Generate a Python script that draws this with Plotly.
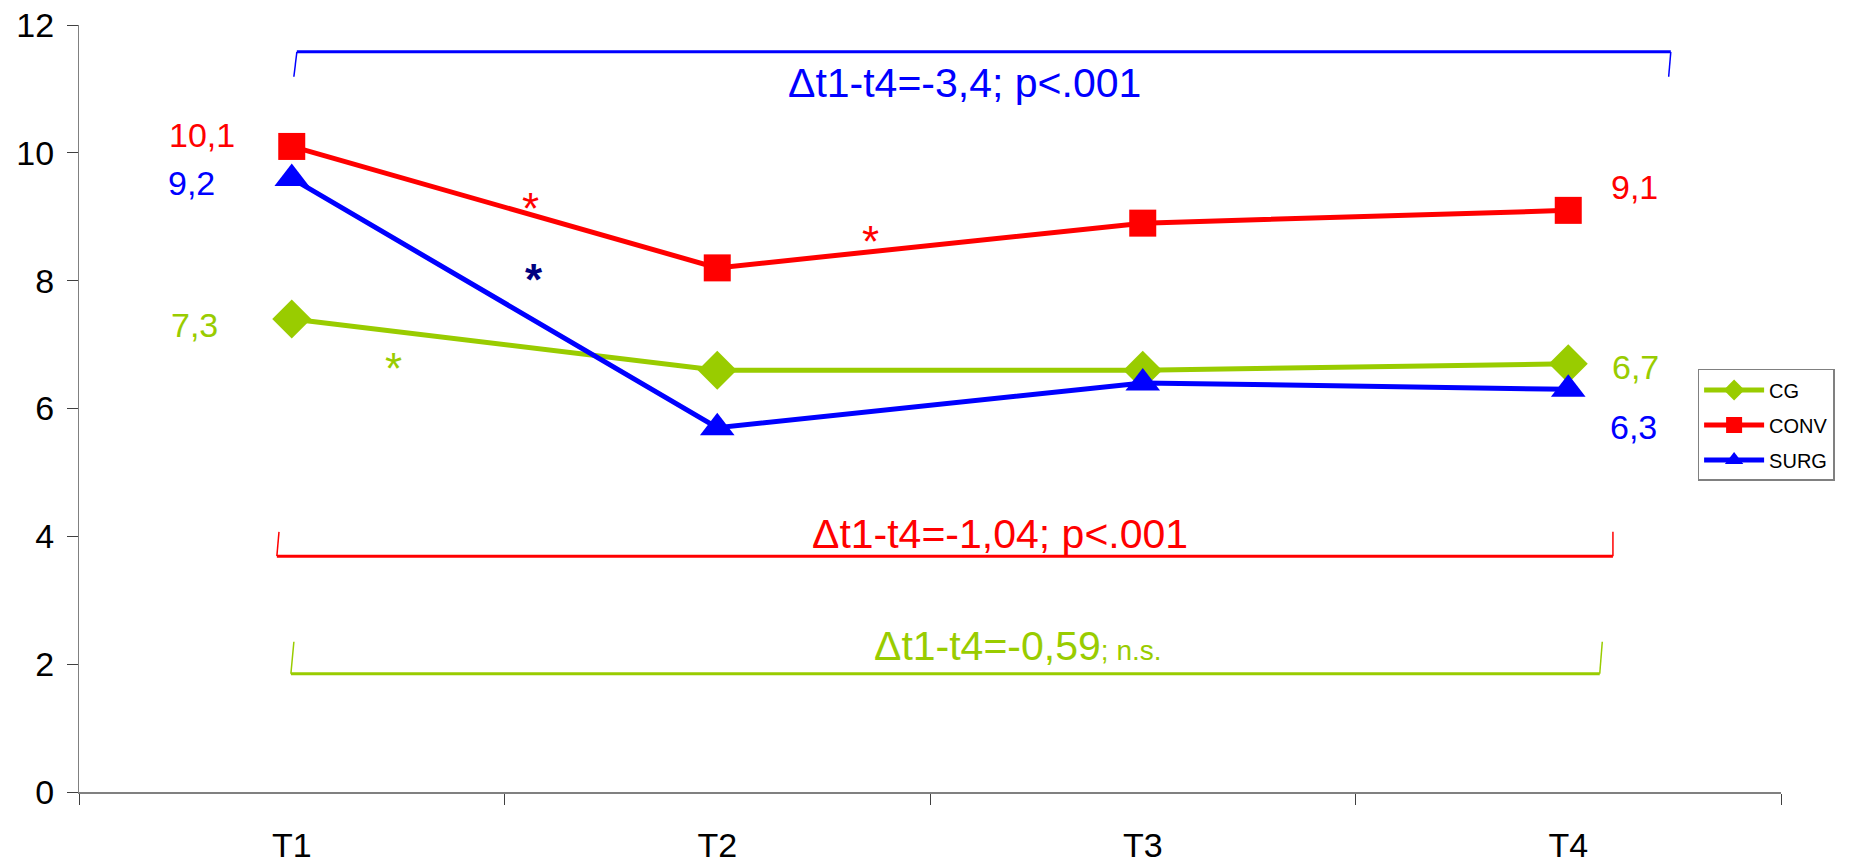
import plotly.graph_objects as go

# ---------------- data ----------------
categories = ["T1", "T2", "T3", "T4"]
cg = [7.4, 6.6, 6.6, 6.7]
conv = [10.1, 8.2, 8.9, 9.1]
surg = [9.6, 5.7, 6.4, 6.3]
series_names = ["CG", "CONV", "SURG"]

# value labels shown beside first / last points
label_texts = ["10,1", "9,2", "7,3", "9,1", "6,7", "6,3"]
label_x = [-0.212, -0.235, -0.228, 3.156, 3.159, 3.154]
label_y = [10.28, 9.53, 7.31, 9.47, 6.65, 5.71]
label_colors = ["#FF0000", "#0000FF", "#99CC00", "#FF0000", "#99CC00", "#0000FF"]

# significance asterisks
star_x = [0.56, 1.36, 0.57, 0.24]
star_y = [9.55, 9.03, 8.43, 7.04]
star_colors = ["#FF0000", "#FF0000", "#000080", "#99CC00"]

# delta brackets
brackets = [
    dict(xl=(0.005, 0.012), xr=(3.236, 3.241), yline=11.58, ytip=11.19, color="#0000FF"),
    dict(xl=(-0.03, -0.035), xr=(3.105, 3.105), yline=3.69, ytip=4.07, color="#FF0000"),
    dict(xl=(0.005, -0.002), xr=(3.08, 3.074), yline=1.85, ytip=2.35, color="#99CC00"),
]
bracket_texts = ["Δt1-t4=-3,4; p<.001", "Δt1-t4=-1,04; p<.001",
                 "Δt1-t4=-0,59<span style='font-size:28px'>; n.s.</span>"]
bracket_text_x = [1.582, 1.664, 1.706]
bracket_text_y = [11.1, 4.04, 2.29]

FONT = "Arial, Liberation Sans, sans-serif"
xidx = list(range(len(categories)))

fig = go.Figure()
fig.add_trace(go.Scatter(x=xidx, y=cg, name=series_names[0], mode="lines+markers",
                         legendgroup="g1",
                         line=dict(color="#99CC00", width=5),
                         marker=dict(symbol="diamond", size=30, color="#99CC00")))
fig.add_trace(go.Scatter(x=xidx, y=conv, name=series_names[1], mode="lines+markers",
                         legendgroup="g2",
                         line=dict(color="#FF0000", width=5),
                         marker=dict(symbol="square", size=27, color="#FF0000")))
fig.add_trace(go.Scatter(x=xidx, y=surg, name=series_names[2], mode="lines+markers",
                         legendgroup="g3",
                         line=dict(color="#0000FF", width=5),
                         marker=dict(symbol="triangle-up", size=30, color="#0000FF")))

for b in brackets:
    fig.add_shape(type="line", xref="x", yref="y", x0=b["xl"][1], x1=b["xr"][1],
                  y0=b["yline"], y1=b["yline"], line=dict(color=b["color"], width=3))
    fig.add_shape(type="line", xref="x", yref="y", x0=b["xl"][1], x1=b["xl"][0],
                  y0=b["yline"], y1=b["ytip"], line=dict(color=b["color"], width=1.5))
    fig.add_shape(type="line", xref="x", yref="y", x0=b["xr"][1], x1=b["xr"][0],
                  y0=b["yline"], y1=b["ytip"], line=dict(color=b["color"], width=1.5))

for t, x, y, b in zip(bracket_texts, bracket_text_x, bracket_text_y, brackets):
    fig.add_annotation(x=x, y=y, xref="x", yref="y", text=t, showarrow=False,
                       font=dict(family=FONT, size=41, color=b["color"]),
                       xanchor="center", yanchor="middle")

for t, x, y, c in zip(label_texts, label_x, label_y, label_colors):
    fig.add_annotation(x=x, y=y, xref="x", yref="y", text=t, showarrow=False,
                       font=dict(family=FONT, size=34, color=c),
                       xanchor="center", yanchor="middle")

for x, y, c in zip(star_x, star_y, star_colors):
    txt = "<b>*</b>" if c == "#000080" else "*"
    fig.add_annotation(x=x, y=y, xref="x", yref="y", text=txt, showarrow=False,
                       font=dict(family=FONT, size=44, color=c),
                       xanchor="center", yanchor="top")

fig.update_layout(
    width=1849, height=861,
    margin=dict(l=79, r=68, t=25, b=69, autoexpand=False),
    paper_bgcolor="white", plot_bgcolor="white",
    font=dict(family=FONT, color="black"),
    showlegend=True,
    legend=dict(x=0.951, y=0.5515, xanchor="left", yanchor="top",
                bgcolor="white", bordercolor="#808080", borderwidth=1.5,
                font=dict(family=FONT, size=20, color="black"),
                tracegroupgap=6, itemwidth=60),
)
fig.update_xaxes(
    range=[-0.5, 3.5], tickmode="array", tickvals=xidx, ticktext=categories,
    ticks="", showgrid=False, zeroline=False, automargin=False,
    showline=True, linecolor="#808080", linewidth=2,
    tickfont=dict(family=FONT, size=34, color="black"), ticklabelstandoff=22,
    ticklabeloverflow="allow",
    minor=dict(tickmode="array", tickvals=[-0.5, 0.5, 1.5, 2.5, 3.5],
               ticks="outside", ticklen=11, tickcolor="#404040", tickwidth=1, showgrid=False),
)
fig.update_yaxes(
    range=[0, 12], tickmode="array", tickvals=[0, 2, 4, 6, 8, 10, 12],
    ticks="outside", ticklen=11, tickcolor="#404040", tickwidth=1,
    showgrid=False, zeroline=False, automargin=False,
    showline=True, linecolor="#808080", linewidth=1,
    tickfont=dict(family=FONT, size=34, color="black"), ticklabelstandoff=6,
    ticklabeloverflow="allow",
)

fig.write_html("out.html",
               config={"displayModeBar": False},
               post_script="document.body.style.margin='0';document.body.style.overflow='hidden';")
